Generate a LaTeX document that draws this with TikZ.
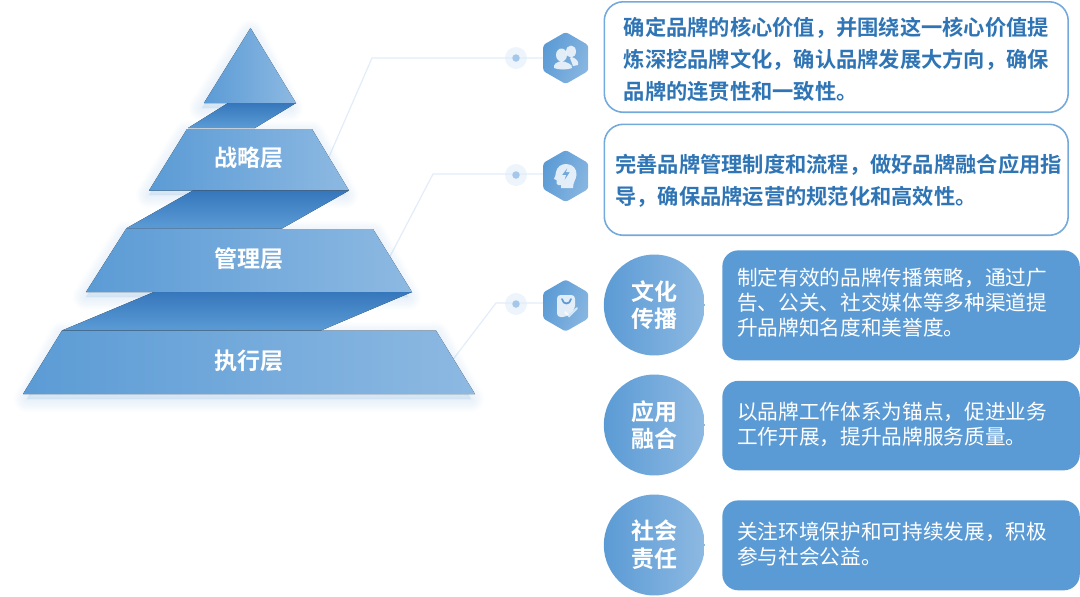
\documentclass[tikz,border=0pt]{standalone}
\usepackage{fontspec}
\setmainfont{Noto Sans CJK SC}
\newfontfamily\cjkbold{Noto Sans CJK SC Bold}
\usepackage{xcolor}
\usetikzlibrary{shapes.geometric,calc}
\definecolor{brandblue}{HTML}{5B9BD5}
\definecolor{brandlight}{HTML}{8DB9E2}
\definecolor{branddark}{HTML}{3677BC}
\definecolor{brandtext}{HTML}{2F75B5}
\definecolor{leaderblue}{HTML}{E2EDF9}
\definecolor{halo}{HTML}{EDF4FB}
\definecolor{dotblue}{HTML}{A5C7E9}
\begin{document}
\begin{tikzpicture}[x=0.02cm, y=-0.02cm,
  slab/.style={left color=brandblue,right color=brandlight,draw=none},
  band/.style={top color=branddark,bottom color=brandblue,draw=none},
  glow/.style={draw=brandblue,draw opacity=0.018,line join=round,fill=brandblue,fill opacity=0.018},
  leader/.style={draw=leaderblue,line width=0.7pt},
  lvl/.style={font=\cjkbold\fontsize{13.1}{15}\selectfont,text=white,inner sep=0pt},
  haloring/.style={circle,fill=halo,minimum size=0.44cm,inner sep=0pt},
  dotnode/.style={circle,fill=dotblue,minimum size=0.15cm,inner sep=0pt},
  hexnode/.style={regular polygon,regular polygon sides=6,shape border rotate=30,minimum size=1.04cm,inner sep=0pt,
    rounded corners=1.5pt,left color=brandblue,right color=brandlight!90!brandblue,shading angle=70},
  outbox/.style={draw=brandblue!85,line width=0.9pt,fill=white,rounded corners=0.38cm,
    minimum width=9.28cm,inner sep=0pt,anchor=north west},
  outtext/.style={font=\cjkbold\fontsize{12.1}{18.4}\selectfont,text=brandtext,align=left,inner sep=0pt,anchor=west},
  solidbox/.style={fill=brandblue,rounded corners=0.32cm,minimum width=7.15cm,inner sep=0pt,anchor=north west},
  solidtext/.style={font=\fontsize{11.75}{14.2}\selectfont,text=white,align=left,inner sep=0pt,anchor=west},
  badge/.style={circle,minimum size=2.02cm,inner sep=0pt,left color=brandblue,right color=brandlight,
    font=\cjkbold\fontsize{13.1}{15.7}\selectfont,text=white,align=center},
  iconfill/.style={fill=white,fill opacity=0.8,draw=none}]

  % picture size
  \useasboundingbox (0,0) rectangle (1080,596);

  % leaders
  \coordinate (fromA) at (325,166);
  \coordinate (bendA) at (372,58);
  \coordinate (fromB) at (385,266);
  \coordinate (bendB) at (433,174);
  \coordinate (fromC) at (445,370);
  \coordinate (bendC) at (496,303);
  \node[haloring] (haloA) at (516,58) {};
  \node[haloring] (haloB) at (516,175) {};
  \node[haloring] (haloC) at (516,304) {};
  \node[hexnode] (hexA) at (565.7,58) {};
  \node[hexnode] (hexB) at (565.7,176) {};
  \node[hexnode] (hexC) at (565.7,305.5) {};
  \draw[leader] (fromA) -- (bendA) -- (hexA.west |- bendA);
  \draw[leader] (fromB) -- (bendB) -- (hexB.west |- bendB);
  \draw[leader] (fromC) -- (bendC) -- (hexC.west |- bendC);
  \node[dotnode] (dotA) at (haloA) {};
  \node[dotnode] (dotB) at (haloB) {};
  \node[dotnode] (dotC) at (haloC) {};

  % soft shadow under the pyramid
  \foreach \w in {1,3,...,15}{
    \fill[glow,line width=\w pt] (250.5,33) -- (290,108) -- (202,108) -- cycle;
    \fill[glow,line width=\w pt] (187,134) -- (312,134) -- (345,195) -- (149,195) -- cycle;
    \fill[glow,line width=\w pt] (126,234) -- (373,234) -- (408,297) -- (86,297) -- cycle;
    \fill[glow,line width=\w pt] (62,335) -- (436,335) -- (471,399) -- (27,399) -- cycle;
  }

  % pyramid
  \fill[slab] (250.5,28) -- (296,103) -- (204,103) -- cycle;
  \fill[band] (228,103) -- (296,103) -- (255,128) -- (188,128) -- cycle;
  \fill[slab] (187,129) -- (312,129) -- (349,190.5) -- (149,190.5) -- cycle;
  \fill[band] (193,190.5) -- (349,190.5) -- (282,228.5) -- (126,228.5) -- cycle;
  \fill[slab] (126,229) -- (373,229) -- (412,292) -- (86,292) -- cycle;
  \fill[band] (154,292) -- (412,292) -- (321,330.5) -- (62,330.5) -- cycle;
  \fill[slab] (62,330.5) -- (436,330.5) -- (475,394) -- (23,394) -- cycle;
  \node[lvl] (strategy) at (249,158) {战略层};
  \node[lvl] (manage) at (249,259) {管理层};
  \node[lvl] (execute) at (249,361) {执行层};

  % icons
  \fill[iconfill] (571,51.5) circle (5 and 6);
  \fill[iconfill] (572,57) .. controls (577,59) and (579,62) .. (578,65) -- (573,66) -- (570,58) -- cycle;
  \fill[iconfill] (561.5,55) circle (5.5 and 6.5);
  \fill[iconfill] (554,68) .. controls (553,64) and (557,62) .. (561.5,61) .. controls (566,62) and (573,64) .. (572,68) .. controls (568,70) and (558,70) .. (554,68) -- cycle;

  \fill[iconfill,even odd rule] (566,164) .. controls (573,164) and (577,169) .. (576.5,175) .. controls (576,180) and (573,182) .. (573,188)
    -- (561,188) -- (561,185) -- (558,185) .. controls (556,185) and (556.5,182) .. (556.5,180) -- (554,179)
    .. controls (555,176) and (556,175) .. (556,172) .. controls (557,167) and (561,164) .. (566,164) -- cycle
    (568,167) -- (562,175) -- (566,175) -- (564,181) -- (570,172) -- (566,172) -- cycle;

  \fill[iconfill,rounded corners=2pt] (557,295) -- (575,295) -- (575,309) -- (566,317) -- (557,317) -- cycle;
  \draw[brandblue,line width=1pt,line cap=round] (562,299) .. controls (563,305) and (570,305) .. (571,299);
  \draw[white,line width=1.2pt,opacity=0.7,line cap=round] (565,312) -- (569,316) -- (577,308);

  % right column
  \node[outbox,minimum height=2.21cm] (boxA) at (603.5,1) {};
  \node[outtext] (textA) at (623.5,59.5) {确定品牌的核心价值，并围绕这一核心价值提\\炼深挖品牌文化，确认品牌发展大方向，确保\\品牌的连贯性和一致性。};
  \node[outbox,minimum height=2.22cm] (boxB) at (603.5,123.5) {};
  \node[outtext] (textB) at (615,181) {完善品牌管理制度和流程，做好品牌融合应用指\\导，确保品牌运营的规范化和高效性。};

  \node[badge] (roleA) at (654.3,305) {文化\\传播};
  \node[badge] (roleB) at (654.3,425) {应用\\融合};
  \node[badge] (roleC) at (654.3,545) {社会\\责任};

  \node[solidbox,minimum height=2.2cm] (solidA) at (722,250) {};
  \node[solidbox,minimum height=1.79cm] (solidB) at (722,380.5) {};
  \node[solidbox,minimum height=1.8cm] (solidC) at (722,500) {};
  \node[solidtext] (noteA) at (737,303) {制定有效的品牌传播策略，通过广\\告、公关、社交媒体等多种渠道提\\升品牌知名度和美誉度。};
  \node[solidtext] (noteB) at (737,424) {以品牌工作体系为锚点，促进业务\\工作开展，提升品牌服务质量。};
  \node[solidtext] (noteC) at (737,544) {关注环境保护和可持续发展，积极\\参与社会公益。};
\end{tikzpicture}
\end{document}
